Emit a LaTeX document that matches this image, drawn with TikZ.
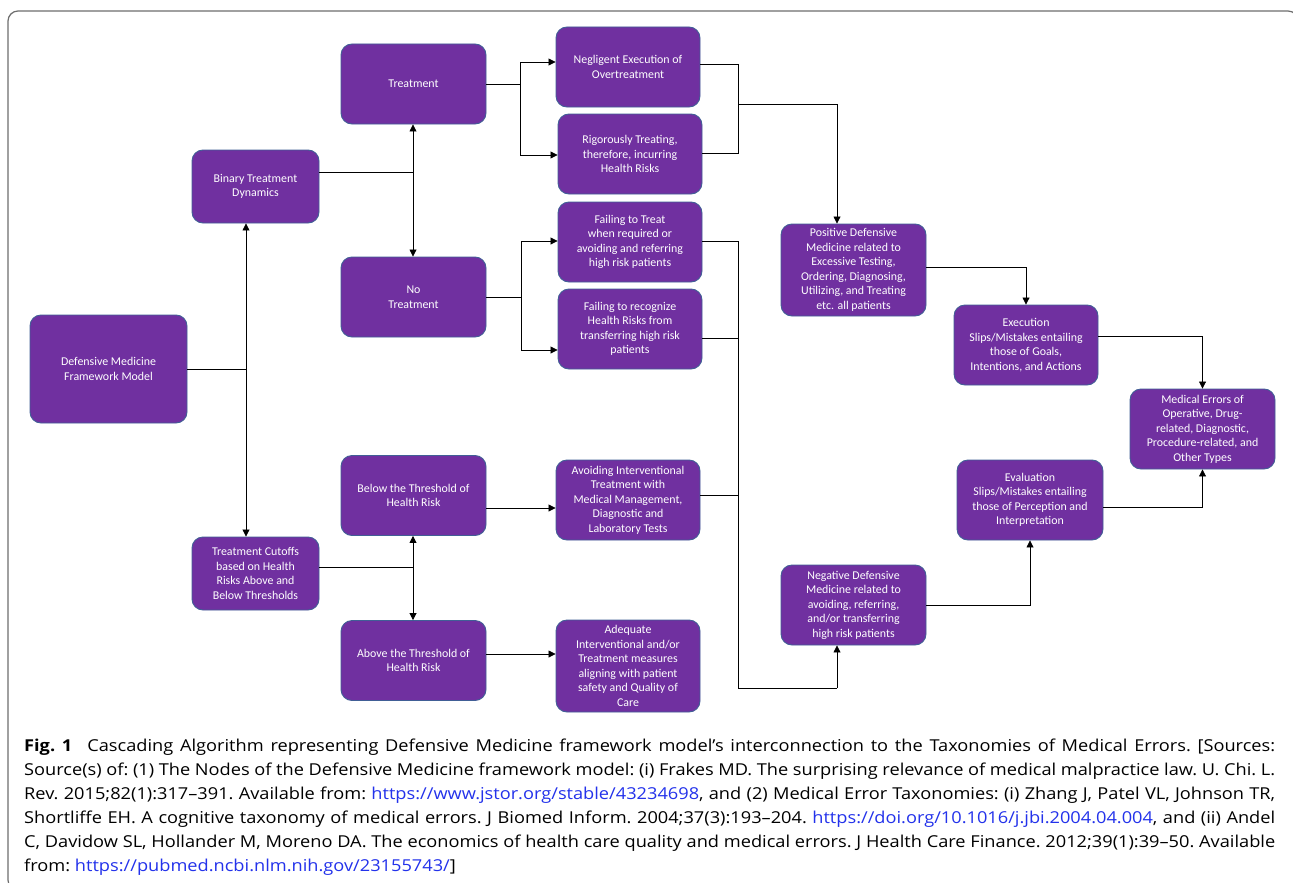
\documentclass[tikz,border=0pt]{standalone}
\usepackage{fontspec}
\usepackage{xcolor}
\usepackage{tikz}
\usetikzlibrary{arrows.meta,positioning,calc}
\newfontfamily\boxfont{Carlito}
\newfontfamily\capfont[FakeStretch=1.11]{Open Sans}
\definecolor{boxpurple}{RGB}{112, 48, 160}
\definecolor{boxedge}{RGB}{65, 95, 150}
\definecolor{framegray}{RGB}{110, 110, 110}
\definecolor{linkblue}{RGB}{35, 50, 235}

\begin{document}
\begin{tikzpicture}[x=1pt, y=-1pt,
    box/.style={rectangle, rounded corners=11pt, draw=boxedge, line width=0.9pt, fill=boxpurple,
        text=white, align=center, inner sep=2pt, minimum width=145pt, minimum height=80pt,
        font=\boxfont\fontsize{11.9}{14.5}\selectfont},
    line/.style={draw=black, line width=0.8pt},
    arr/.style={line, -{Triangle[length=7pt,width=7pt]}},
    both/.style={line, {Triangle[length=7pt,width=7pt]}-{Triangle[length=7pt,width=7pt]}},
    caption/.style={anchor=north west, inner sep=0pt, text width=1251pt, align=justify,
        font=\capfont\fontsize{16.4}{24}\selectfont\frenchspacing}
]
\useasboundingbox (0,0) rectangle (1293,883);
\fill[white] (0,0) rectangle (1293,883);

% Frame
\draw[framegray, line width=1.2pt, rounded corners=10pt] (8,11) rectangle (1298,890);

% Left column
\node[box, minimum width=157pt, minimum height=108pt] (dmf) at (108.5,369) {Defensive Medicine\\Framework Model};
\node[box, minimum width=127pt, minimum height=73pt] (btd) at (255.5,186.5) {Binary Treatment\\Dynamics};
\node[box, minimum width=127pt, minimum height=73pt] (cut) at (255.5,573.5) {Treatment Cutoffs\\based on Health\\Risks Above and\\Below Thresholds};

% Second column
\node[box] (treat) at (413.5,84) {Treatment};
\node[box] (notreat) at (413.5,297) {No\\Treatment};
\node[box] (below) at (413.5,495.5) {Below the Threshold of\\Health Risk};
\node[box] (above) at (413.5,660.5) {Above the Threshold of\\Health Risk};

% Third column
\node[box, minimum width=144pt] (neg) at (628,67) {Negligent Execution of\\Overtreatment};
\node[box, minimum width=144pt] (rig) at (630,154) {Rigorously Treating,\\therefore, incurring\\Health Risks};
\node[box, minimum width=144pt] (fail1) at (630,242) {Failing to Treat\\when required or\\avoiding and referring\\high risk patients};
\node[box, minimum width=144pt] (fail2) at (630,329) {Failing to recognize\\Health Risks from\\transferring high risk\\patients};
\node[box, minimum width=144pt] (avoid) at (628,500) {Avoiding Interventional\\Treatment with\\Medical Management,\\Diagnostic and\\Laboratory Tests};
\node[box, minimum width=144pt, minimum height=92pt] (adeq) at (628,666) {Adequate\\Interventional and/or\\Treatment measures\\aligning with patient\\safety and Quality of\\Care};

% Defensive medicine
\node[box, minimum height=92pt] (pos) at (853.5,270) {Positive Defensive\\Medicine related to\\Excessive Testing,\\Ordering, Diagnosing,\\Utilizing, and Treating\\etc. all patients};
\node[box] (negd) at (853.5,605) {Negative Defensive\\Medicine related to\\avoiding, referring,\\and/or transferring\\high risk patients};

% Error taxonomies
\node[box, minimum width=144pt] (exec) at (1026,345) {Execution\\Slips/Mistakes entailing\\those of Goals,\\Intentions, and Actions};
\node[box, minimum width=146pt] (eval) at (1030,500) {Evaluation\\Slips/Mistakes entailing\\those of Perception and\\Interpretation};
\node[box] (merr) at (1202.5,429) {Medical Errors of\\Operative, Drug-\\related, Diagnostic,\\Procedure-related, and\\Other Types};

% Junctions
\coordinate (r) at (246,369);
\coordinate (b) at (413,172);
\coordinate (c) at (413,567);
\coordinate (t) at (520,84);
\coordinate (t1) at (520,62);
\coordinate (t2) at (520,155);
\coordinate (n) at (521,297);
\coordinate (n1) at (521,241);
\coordinate (n2) at (521,350);
\coordinate (bl) at (0,508);
\coordinate (ab) at (0,654);
\coordinate (p) at (738,104);
\coordinate (p1) at (738,64);
\coordinate (p2) at (738,153);
\coordinate (pd) at (837,104);
\coordinate (q1) at (738,241);
\coordinate (q2) at (738,338);
\coordinate (q3) at (738,495);
\coordinate (q4) at (738,688);
\coordinate (qd) at (837,688);
\coordinate (e1) at (1026,267);
\coordinate (m1) at (1203,336);
\coordinate (m2) at (1203,507);

% Connectors
\draw[line] (dmf.east) -- (r);
\draw[both] (r |- btd.south) -- (r |- cut.north);
\draw[line] (b -| btd.east) -- (b);
\draw[both] (b |- treat.south) -- (b |- notreat.north);
\draw[line] (c -| cut.east) -- (c);
\draw[both] (c |- below.south) -- (c |- above.north);

\draw[line] (treat.east) -- (t);
\draw[arr] (t) -- (t1) -- (t1 -| neg.west);
\draw[arr] (t) -- (t2) -- (t2 -| rig.west);
\draw[line] (notreat.east) -- (n);
\draw[arr] (n) -- (n1) -- (n1 -| fail1.west);
\draw[arr] (n) -- (n2) -- (n2 -| fail2.west);
\draw[arr] (bl -| below.east) -- (bl -| avoid.west);
\draw[arr] (ab -| above.east) -- (ab -| adeq.west);

\draw[line] (p1 -| neg.east) -- (p1) -- (p2) -- (p2 -| rig.east);
\draw[arr] (p) -- (pd) -- (pd |- pos.north);
\draw[line] (q1 -| fail1.east) -- (q1) -- (q4) -- (qd);
\draw[line] (q2 -| fail2.east) -- (q2);
\draw[line] (q3 -| avoid.east) -- (q3);
\draw[arr] (qd) -- (qd |- negd.south);

\draw[arr] (e1 -| pos.east) -- (e1) -- (e1 |- exec.north);
\draw[arr] (negd.east) -| (eval.south);
\draw[arr] (m1 -| exec.east) -| (merr.north);
\draw[arr] (m2 -| eval.east) -| (merr.south);

% Caption
\node[caption] (cap) at (24,739) {\textbf{Fig.~1}\hspace{0.5em} Cascading Algorithm representing Defensive Medicine framework model’s interconnection to the Taxonomies of Medical Errors. [Sources:\linebreak
Source(s) of: (1) The Nodes of the Defensive Medicine framework model: (i) Frakes MD. The surprising relevance of medical malpractice law. U. Chi. L.\linebreak
Rev. 2015;82(1):317–391. Available from: {\color{linkblue}https://www.jstor.org/stable/43234698}, and (2) Medical Error Taxonomies: (i) Zhang J, Patel VL, Johnson TR,\linebreak
Shortliffe EH. A cognitive taxonomy of medical errors. J Biomed Inform. 2004;37(3):193–204. {\color{linkblue}https://doi.org/10.1016/j.jbi.2004.04.004}, and (ii) Andel\linebreak
C, Davidow SL, Hollander M, Moreno DA. The economics of health care quality and medical errors. J Health Care Finance. 2012;39(1):39–50. Available\linebreak
from: {\color{linkblue}https://pubmed.ncbi.nlm.nih.gov/23155743/}]};

\end{tikzpicture}
\end{document}
